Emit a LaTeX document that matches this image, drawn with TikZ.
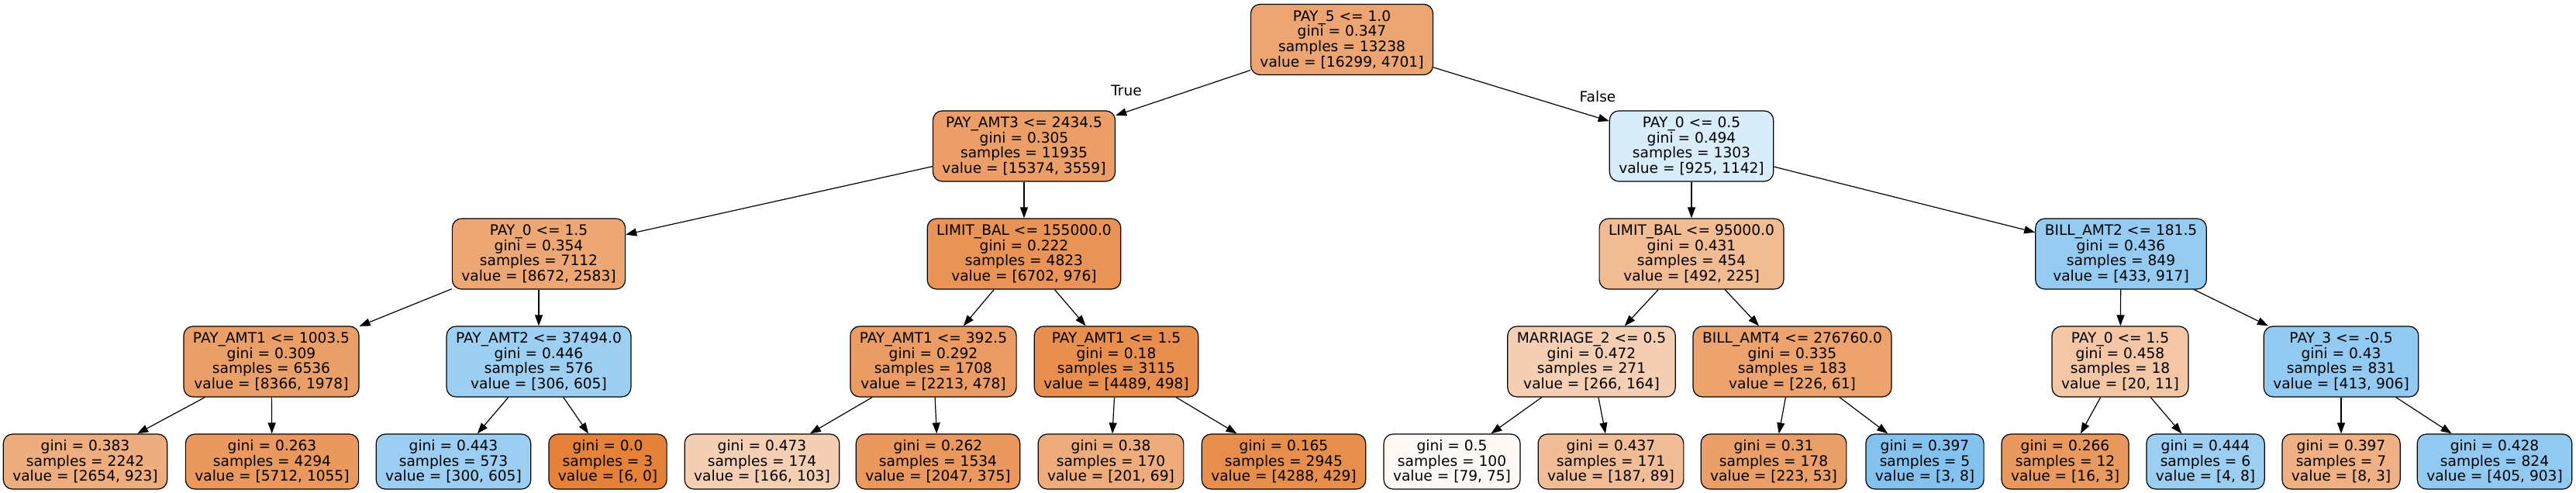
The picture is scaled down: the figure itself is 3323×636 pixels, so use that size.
\documentclass[tikz,border=0pt]{standalone}
\usepackage{fontspec}
\setmainfont{DejaVu Sans}
\usetikzlibrary{arrows.meta}
\definecolor{cO}{RGB}{229,129,57}
\definecolor{cB}{RGB}{57,157,229}
\tikzset{
  tn/.style={draw=black, line width=0.6pt, rounded corners=6pt, align=center,
    inner xsep=6pt, inner ysep=0pt, minimum height=45.5pt,
    font=\fontsize{9.3pt}{9.8pt}\selectfont},
  lf/.style={tn, minimum height=35.5pt},
  ed/.style={-{Triangle[length=7pt,width=5pt]}, line width=0.6pt},
  elab/.style={anchor=base, inner sep=0pt, font=\fontsize{9.3pt}{9.8pt}\selectfont}
}
\begin{document}
\begin{tikzpicture}[x=0.5pt, y=-0.5pt]
\useasboundingbox (0,0) rectangle (3323,636);
% internal nodes
\node[tn, fill=cO!71.2!white] (n0) at (1731,51) {PAY\_5 <= 1.0\\gini = 0.347\\samples = 13238\\value = [16299, 4701]};
\node[tn, fill=cO!76.9!white] (n1) at (1321,188.5) {PAY\_AMT3 <= 2434.5\\gini = 0.305\\samples = 11935\\value = [15374, 3559]};
\node[tn, fill=cB!19.0!white] (n2) at (2182,188.5) {PAY\_0 <= 0.5\\gini = 0.494\\samples = 1303\\value = [925, 1142]};
\node[tn, fill=cO!70.2!white] (n3) at (695,327.5) {PAY\_0 <= 1.5\\gini = 0.354\\samples = 7112\\value = [8672, 2583]};
\node[tn, fill=cO!85.4!white] (n4) at (1321,327.5) {LIMIT\_BAL <= 155000.0\\gini = 0.222\\samples = 4823\\value = [6702, 976]};
\node[tn, fill=cO!54.3!white] (n5) at (2182,327.5) {LIMIT\_BAL <= 95000.0\\gini = 0.431\\samples = 454\\value = [492, 225]};
\node[tn, fill=cB!52.8!white] (n6) at (2736,327.5) {BILL\_AMT2 <= 181.5\\gini = 0.436\\samples = 849\\value = [433, 917]};
\node[tn, fill=cO!76.4!white] (n7) at (350,466.5) {PAY\_AMT1 <= 1003.5\\gini = 0.309\\samples = 6536\\value = [8366, 1978]};
\node[tn, fill=cB!49.4!white] (n8) at (695,466.5) {PAY\_AMT2 <= 37494.0\\gini = 0.446\\samples = 576\\value = [306, 605]};
\node[tn, fill=cO!78.4!white] (n9) at (1204,466.5) {PAY\_AMT1 <= 392.5\\gini = 0.292\\samples = 1708\\value = [2213, 478]};
\node[tn, fill=cO!88.9!white] (n10) at (1440,466.5) {PAY\_AMT1 <= 1.5\\gini = 0.18\\samples = 3115\\value = [4489, 498]};
\node[tn, fill=cO!38.3!white] (n11) at (2053,466.5) {MARRIAGE\_2 <= 0.5\\gini = 0.472\\samples = 271\\value = [266, 164]};
\node[tn, fill=cO!73.0!white] (n12) at (2312,466.5) {BILL\_AMT4 <= 276760.0\\gini = 0.335\\samples = 183\\value = [226, 61]};
\node[tn, fill=cO!45.0!white] (n13) at (2735,466.5) {PAY\_0 <= 1.5\\gini = 0.458\\samples = 18\\value = [20, 11]};
\node[tn, fill=cB!54.4!white] (n14) at (3020,466.5) {PAY\_3 <= -0.5\\gini = 0.43\\samples = 831\\value = [413, 906]};
% leaves
\node[lf, fill=cO!65.2!white] (l1) at (110,595.5) {gini = 0.383\\samples = 2242\\value = [2654, 923]};
\node[lf, fill=cO!81.5!white] (l2) at (351,595.5) {gini = 0.263\\samples = 4294\\value = [5712, 1055]};
\node[lf, fill=cB!50.4!white] (l3) at (585,595.5) {gini = 0.443\\samples = 573\\value = [300, 605]};
\node[lf, fill=cO] (l4) at (784,595.5) {gini = 0.0\\samples = 3\\value = [6, 0]};
\node[lf, fill=cO!38.0!white] (l5) at (983,595.5) {gini = 0.473\\samples = 174\\value = [166, 103]};
\node[lf, fill=cO!81.7!white] (l6) at (1210,595.5) {gini = 0.262\\samples = 1534\\value = [2047, 375]};
\node[lf, fill=cO!65.7!white] (l7) at (1433,595.5) {gini = 0.38\\samples = 170\\value = [201, 69]};
\node[lf, fill=cO!90.0!white] (l8) at (1656,595.5) {gini = 0.165\\samples = 2945\\value = [4288, 429]};
\node[lf, fill=cO!5.1!white] (l9) at (1873,595.5) {gini = 0.5\\samples = 100\\value = [79, 75]};
\node[lf, fill=cO!52.4!white] (l10) at (2078,595.5) {gini = 0.437\\samples = 171\\value = [187, 89]};
\node[lf, fill=cO!76.2!white] (l11) at (2288,595.5) {gini = 0.31\\samples = 178\\value = [223, 53]};
\node[lf, fill=cB!62.5!white] (l12) at (2483,595.5) {gini = 0.397\\samples = 5\\value = [3, 8]};
\node[lf, fill=cO!81.3!white] (l13) at (2664,595.5) {gini = 0.266\\samples = 12\\value = [16, 3]};
\node[lf, fill=cB!50.0!white] (l14) at (2845,595.5) {gini = 0.444\\samples = 6\\value = [4, 8]};
\node[lf, fill=cO!62.5!white] (l15) at (3020,595.5) {gini = 0.397\\samples = 7\\value = [8, 3]};
\node[lf, fill=cB!55.2!white] (l16) at (3218,595.5) {gini = 0.428\\samples = 824\\value = [405, 903]};
% edges
\draw[ed] (n0) -- (n1);
\draw[ed] (n0) -- (n2);
\draw[ed] (n1) -- (n3);
\draw[ed] (n1) -- (n4);
\draw[ed] (n2) -- (n5);
\draw[ed] (n2) -- (n6);
\draw[ed] (n3) -- (n7);
\draw[ed] (n3) -- (n8);
\draw[ed] (n4) -- (n9);
\draw[ed] (n4) -- (n10);
\draw[ed] (n5) -- (n11);
\draw[ed] (n5) -- (n12);
\draw[ed] (n6) -- (n13);
\draw[ed] (n6) -- (n14);
\draw[ed] (n7) -- (l1);
\draw[ed] (n7) -- (l2);
\draw[ed] (n8) -- (l3);
\draw[ed] (n8) -- (l4);
\draw[ed] (n9) -- (l5);
\draw[ed] (n9) -- (l6);
\draw[ed] (n10) -- (l7);
\draw[ed] (n10) -- (l8);
\draw[ed] (n11) -- (l9);
\draw[ed] (n11) -- (l10);
\draw[ed] (n12) -- (l11);
\draw[ed] (n12) -- (l12);
\draw[ed] (n13) -- (l13);
\draw[ed] (n13) -- (l14);
\draw[ed] (n14) -- (l15);
\draw[ed] (n14) -- (l16);
% edge labels
\node[elab] (tlab) at (1453,124) {True};
\node[elab] (flab) at (2061,132) {False};
\end{tikzpicture}
\end{document}
